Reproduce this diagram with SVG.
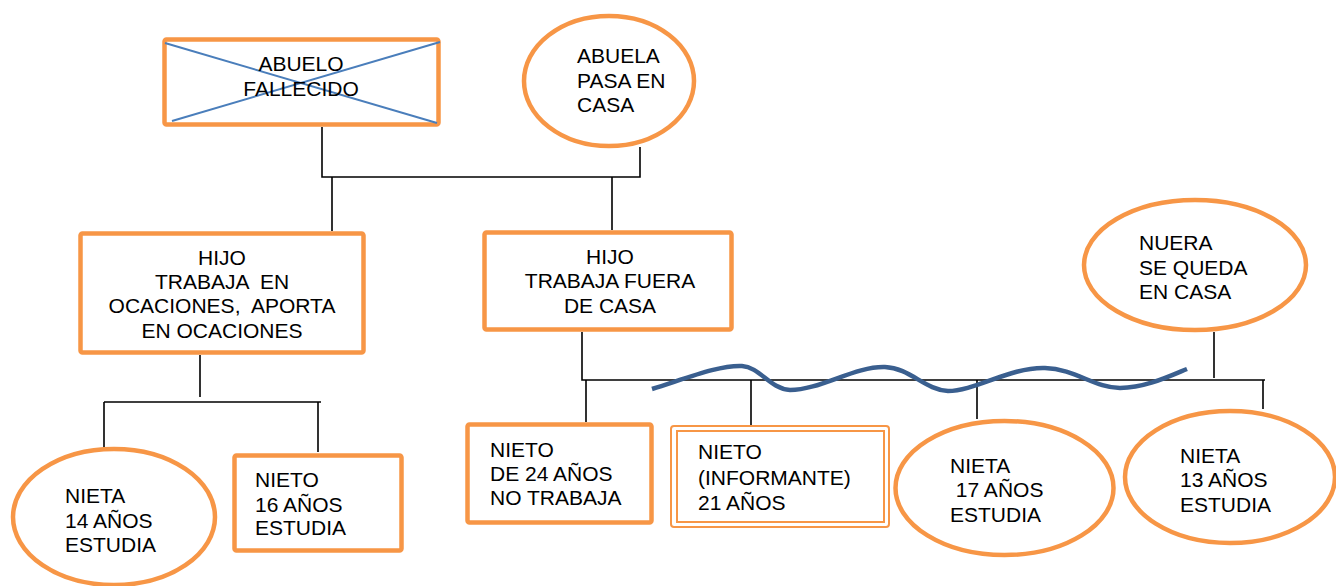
<svg xmlns="http://www.w3.org/2000/svg" width="1336" height="586" viewBox="0 0 1336 586">
<style>
.n{fill:#fff;stroke:#F79646;stroke-width:4.5}
.d{fill:none;stroke:#F79646;stroke-width:2}
.t{font-family:"Liberation Sans",Arial,sans-serif;font-size:21px;fill:#000}
.c{text-anchor:middle}
.k{stroke:#000;stroke-width:1.6;fill:none}
</style>
<rect width="1336" height="586" fill="#fff"/>
<g id="connectors">
<path class="k" d="M322,127V177H640V147M332,177V231M612,177V230"/>
<path class="k" d="M200,355V397M104,402H321M104,402V448M318,402V452"/>
<path class="k" d="M582,332V380H1265M586,380V422M751,380V427M977,380V419M1263,380V409M1214,332V378"/>
<path d="M652,389C690,377 720,365 742,366C760,367 770,389 790,390C820,390 855,366 885,367C910,368 925,390 948,391C975,391 1010,367 1045,368C1075,369 1095,388 1120,388C1145,388 1170,376 1187,369" fill="none" stroke="#3A5F8F" stroke-width="4.5"/>
</g>
<g id="abuelo">
<rect class="n" x="164.5" y="39.5" width="274" height="85" rx="2"/>
<line x1="165" y1="43" x2="437" y2="123" stroke="#4A7EBB" stroke-width="2"/>
<line x1="172" y1="121" x2="440" y2="42" stroke="#4A7EBB" stroke-width="2"/>
<text class="t c" x="301" y="71">ABUELO</text>
<text class="t c" x="301" y="96">FALLECIDO</text>
</g>
<g id="abuela">
<ellipse class="n" cx="609" cy="81" rx="85" ry="65"/>
<text class="t" x="577" y="63">ABUELA</text>
<text class="t" x="577" y="88">PASA EN</text>
<text class="t" x="577" y="112">CASA</text>
</g>
<g id="hijo1">
<rect class="n" x="80.5" y="233.5" width="283" height="119" rx="2"/>
<text class="t c" x="222" y="265">HIJO</text>
<text class="t c" x="222" y="289" xml:space="preserve">TRABAJA  EN</text>
<text class="t c" x="222" y="313" xml:space="preserve">OCACIONES,  APORTA</text>
<text class="t c" x="222" y="338">EN OCACIONES</text>
</g>
<g id="hijo2">
<rect class="n" x="484.5" y="232.5" width="247" height="97" rx="2"/>
<text class="t c" x="610" y="264">HIJO</text>
<text class="t c" x="610" y="288">TRABAJA FUERA</text>
<text class="t c" x="610" y="313">DE CASA</text>
</g>
<g id="nuera">
<ellipse class="n" cx="1195" cy="265" rx="111" ry="65"/>
<text class="t" x="1139" y="250">NUERA</text>
<text class="t" x="1139" y="275">SE QUEDA</text>
<text class="t" x="1139" y="299">EN CASA</text>
</g>
<g id="nieta14">
<ellipse class="n" cx="114" cy="517" rx="101" ry="68"/>
<text class="t" x="65" y="503">NIETA</text>
<text class="t" x="65" y="528">14 AÑOS</text>
<text class="t" x="65" y="552">ESTUDIA</text>
</g>
<g id="nieto16">
<rect class="n" x="234.5" y="455.5" width="167" height="95" rx="2"/>
<text class="t" x="255" y="487">NIETO</text>
<text class="t" x="255" y="512">16 AÑOS</text>
<text class="t" x="255" y="535">ESTUDIA</text>
</g>
<g id="nieto24">
<rect class="n" x="467.5" y="424.5" width="184" height="98" rx="2"/>
<text class="t" x="490" y="457">NIETO</text>
<text class="t" x="490" y="481">DE 24 AÑOS</text>
<text class="t" x="490" y="505">NO TRABAJA</text>
</g>
<g id="nieto21">
<rect x="671" y="426" width="218" height="101" rx="3" fill="#fff" stroke="#F79646" stroke-width="2"/>
<rect class="d" x="677" y="431" width="207" height="91"/>
<text class="t" x="698" y="459">NIETO</text>
<text class="t" x="698" y="485">(INFORMANTE)</text>
<text class="t" x="698" y="510">21 AÑOS</text>
</g>
<g id="nieta17">
<ellipse class="n" cx="1004.5" cy="488" rx="109" ry="67"/>
<text class="t" x="950" y="473">NIETA</text>
<text class="t" x="950" y="497" xml:space="preserve"> 17 AÑOS</text>
<text class="t" x="950" y="522">ESTUDIA</text>
</g>
<g id="nieta13">
<ellipse class="n" cx="1230" cy="477" rx="105" ry="66"/>
<text class="t" x="1180" y="463">NIETA</text>
<text class="t" x="1180" y="487">13 AÑOS</text>
<text class="t" x="1180" y="512">ESTUDIA</text>
</g>
</svg>
